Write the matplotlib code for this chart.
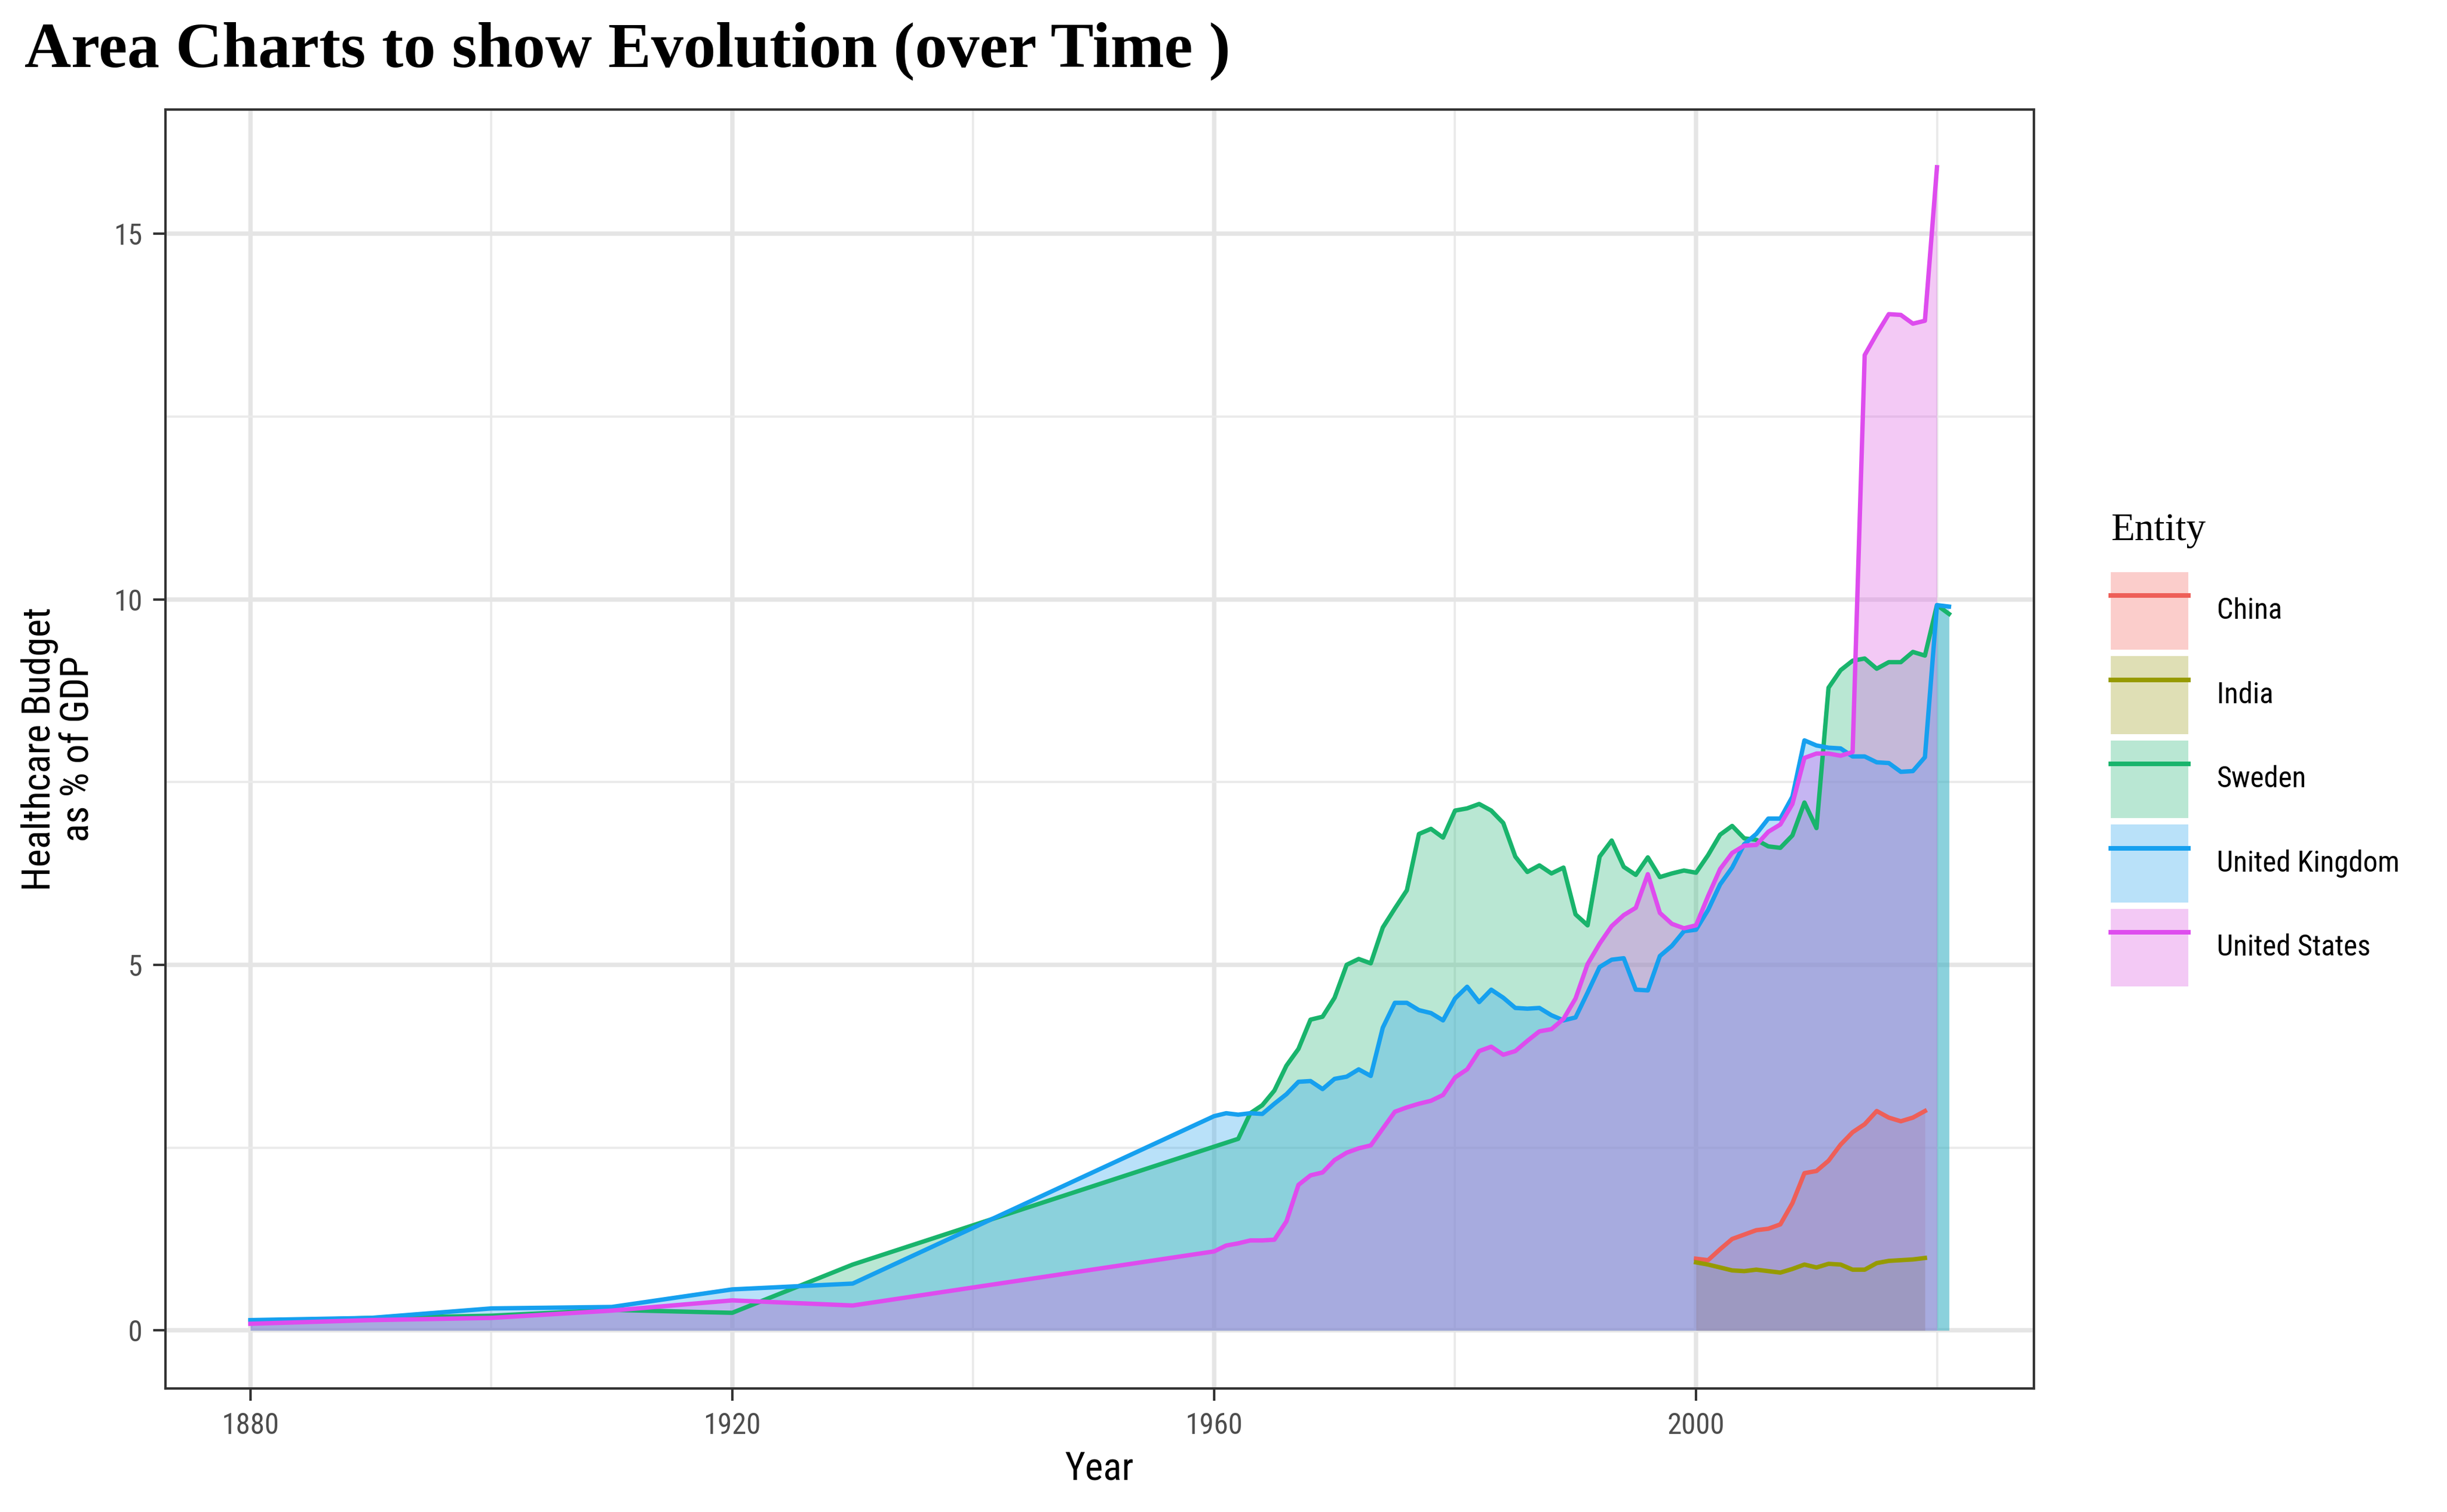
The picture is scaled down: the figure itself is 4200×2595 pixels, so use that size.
import matplotlib
matplotlib.use("Agg")
import matplotlib.pyplot as plt
from matplotlib.patches import Patch
from matplotlib.lines import Line2D

# healthcare budget as % of GDP
early_years = [1880, 1890, 1900, 1910, 1920, 1930]

china_years = list(range(2000, 2020))
china = [0.98, 0.96, 1.11, 1.25, 1.31, 1.37, 1.39, 1.45, 1.74, 2.15,
         2.18, 2.32, 2.54, 2.71, 2.82, 3.00, 2.91, 2.86, 2.91, 3.00]

india_years = list(range(2000, 2020))
india = [0.93, 0.90, 0.86, 0.82, 0.81, 0.83, 0.81, 0.79, 0.84, 0.90,
         0.86, 0.91, 0.90, 0.83, 0.83, 0.92, 0.95, 0.96, 0.97, 0.99]

sweden_years = early_years + list(range(1962, 2022))
sweden = [0.12, 0.17, 0.20, 0.28, 0.24, 0.90,
          2.62, 2.97, 3.08, 3.28, 3.62, 3.85, 4.25, 4.29, 4.55,
          5.00, 5.08, 5.02, 5.51, 5.77, 6.02, 6.79, 6.86, 6.74,
          7.11, 7.14, 7.20, 7.11, 6.94, 6.48, 6.27, 6.36, 6.25, 6.33,
          5.69, 5.54, 6.48, 6.70, 6.34, 6.23, 6.47, 6.20, 6.25, 6.29,
          6.26, 6.50, 6.78, 6.90, 6.73, 6.71, 6.62, 6.60, 6.77, 7.22,
          6.87, 8.79, 9.03, 9.16, 9.19, 9.05, 9.14, 9.14, 9.28, 9.23,
          9.92, 9.80]

uk_years = early_years + list(range(1960, 2022))
uk = [0.14, 0.17, 0.30, 0.32, 0.56, 0.64,
      2.93, 2.97, 2.95, 2.97, 2.96, 3.10, 3.23, 3.40, 3.41, 3.30,
      3.44, 3.47, 3.57, 3.48, 4.14, 4.48, 4.48, 4.38, 4.34, 4.24,
      4.54, 4.70, 4.49, 4.66, 4.55, 4.41, 4.40, 4.41, 4.31, 4.24,
      4.28, 4.62, 4.97, 5.07, 5.09, 4.66, 4.65, 5.12, 5.26, 5.46,
      5.48, 5.75, 6.10, 6.33, 6.65, 6.79, 7.00, 7.00, 7.30, 8.07,
      8.00, 7.97, 7.96, 7.85, 7.85, 7.77, 7.76, 7.64, 7.65, 7.84,
      9.92, 9.90]

us_years = early_years + list(range(1960, 2021))
us = [0.09, 0.14, 0.17, 0.27, 0.41, 0.34,
      1.08, 1.16, 1.19, 1.23, 1.23, 1.24, 1.49, 1.99, 2.12, 2.16,
      2.33, 2.43, 2.49, 2.53, 2.76, 2.99, 3.05, 3.10, 3.14, 3.22,
      3.46, 3.57, 3.82, 3.88, 3.77, 3.82, 3.96, 4.09, 4.12, 4.26,
      4.54, 5.01, 5.29, 5.53, 5.68, 5.78, 6.24, 5.71, 5.56, 5.50,
      5.54, 5.94, 6.31, 6.53, 6.63, 6.64, 6.82, 6.92, 7.20, 7.83,
      7.89, 7.89, 7.86, 7.91, 13.34, 13.63, 13.90, 13.89, 13.77, 13.81,
      15.91]

entities = ["China", "India", "Sweden", "United Kingdom", "United States"]
all_years = [china_years, india_years, sweden_years, uk_years, us_years]
all_values = [china, india, sweden, uk, us]

fill_colors = ["#F4706A", "#A4A42C", "#37BD81", "#37A9EE", "#DD65E5"]
line_colors = ["#EE5F58", "#969A00", "#19B46C", "#16A0EF", "#DE4CEE"]
fill_alpha = 0.35

sans = ["Roboto Condensed", "Roboto", "DejaVu Sans"]
serif = ["Liberation Serif", "DejaVu Serif"]
plt.rcParams["font.family"] = sans

fig = plt.figure(figsize=(14, 8.65), dpi=300)
ax = fig.add_axes([0.0676, 0.0817, 0.7636, 0.8459])

for yrs, vals, fc in zip(all_years, all_values, fill_colors):
    ax.fill_between(yrs, 0, vals, color=fc, alpha=fill_alpha, lw=0, zorder=2)
for yrs, vals, lc in zip(all_years, all_values, line_colors):
    ax.plot(yrs, vals, color=lc, lw=1.8, zorder=3)

ax.set_xlim(1872.95, 2028.05)
ax.set_ylim(-0.795, 16.7)
ax.set_xticks([1880, 1920, 1960, 2000])
ax.set_xticks([1900, 1940, 1980, 2020], minor=True)
ax.set_yticks([0, 5, 10, 15])
ax.set_yticks([2.5, 7.5, 12.5], minor=True)
ax.set_axisbelow(True)
ax.grid(which="major", color="#E5E5E5", lw=1.8)
ax.grid(which="minor", color="#EAEAEA", lw=0.9)
ax.tick_params(which="major", length=5, width=1.0, color="#333333",
               labelsize=12, labelcolor="#4D4D4D", pad=4.5)
ax.tick_params(which="minor", length=0)
for s in ax.spines.values():
    s.set_color("#333333")
    s.set_linewidth(1.0)

fig.text(1887 / 4200, 1 - 2540 / 2595, "Year", ha="center", va="baseline",
         fontsize=16, color="black")
fig.text(101 / 4200, 1 - 1285 / 2595, "Healthcare Budget\nas % of GDP",
         rotation=90, ha="center", va="center", multialignment="center",
         fontsize=16, linespacing=1.05, color="black")

fig.text(42 / 4200, 1 - 115 / 2595, "Area Charts to show Evolution (over Time )",
         ha="left", va="baseline", fontsize=26.6, fontweight="bold", family=serif)

# legend title drawn on its own so the gap to the keys matches
fig.text(3623 / 4200, 1 - 927 / 2595, "Entity", ha="left", va="baseline",
         fontsize=16, family=serif)

# legend keys: square boxes of fill with the line across
handles = [(Patch(facecolor=fc, alpha=fill_alpha, lw=0), Line2D([], [], color=lc, lw=1.9))
           for fc, lc in zip(fill_colors, line_colors)]
leg = ax.legend(handles, entities, loc="upper left",
                bbox_to_anchor=(3623 / 4200, 1 - 982 / 2595), bbox_transform=fig.transFigure,
                frameon=False, fontsize=12, handlelength=2.66, handleheight=3.73,
                labelspacing=0.22, handletextpad=0.98, borderpad=0, borderaxespad=0)

fig.savefig("out.png", dpi=300, facecolor="white")
